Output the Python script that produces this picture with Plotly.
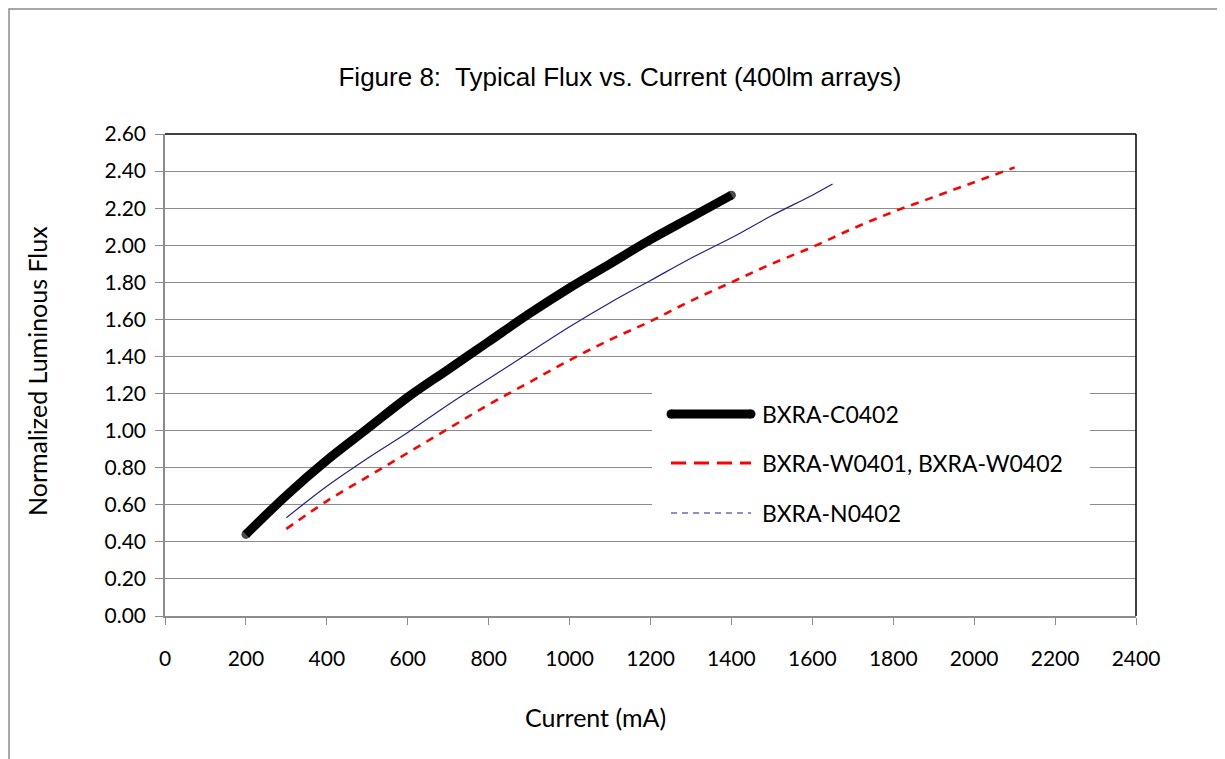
import plotly.graph_objects as go

# ---------------- data ----------------
series_names = ["BXRA-C0402", "BXRA-W0401, BXRA-W0402", "BXRA-N0402"]

c0402_x = [200, 300, 400, 500, 600, 700, 800, 900, 1000, 1100, 1200, 1300, 1400]
c0402_y = [0.44, 0.65, 0.84, 1.01, 1.18, 1.33, 1.48, 1.63, 1.77, 1.90, 2.03, 2.15, 2.27]

w0401_x = [300, 400, 500, 600, 700, 800, 900, 1000, 1100, 1200, 1300, 1400, 1500,
           1600, 1700, 1800, 1900, 2000, 2100]
w0401_y = [0.47, 0.62, 0.75, 0.88, 1.01, 1.14, 1.26, 1.38, 1.49, 1.59, 1.70, 1.80, 1.90,
           1.99, 2.09, 2.18, 2.26, 2.34, 2.42]

n0402_x = [300, 400, 500, 600, 700, 800, 900, 1000, 1100, 1200, 1300, 1400, 1500, 1600, 1650]
n0402_y = [0.53, 0.70, 0.85, 0.99, 1.14, 1.28, 1.42, 1.56, 1.69, 1.81, 1.93, 2.04, 2.16, 2.27, 2.33]

title_text = "Figure 8:\u00a0 Typical Flux vs. Current (400lm arrays)"
x_title = "Current (mA)"
y_title = "Normalized Luminous Flux"

# ---------------- styles ----------------
BLACK = "#000000"
RED = "#ff0000"
BLUE = "#20208a"
GRID = "#8c8c8c"
FONT = "Lato"

W, H = 1225, 759
OFF = 8  # page margin of the browser
L, R, T, B = 165, 1136, 134, 616  # plot area in page px


def px_x(p):
    return (p - L) / (R - L)


def px_y(p):
    return (B - p) / (B - T)


fig = go.Figure()
cap_sizes = [9] + [0] * (len(c0402_x) - 2) + [9]
fig.add_trace(go.Scatter(x=c0402_x, y=c0402_y, mode="lines+markers", name=series_names[0],
                         line=dict(color=BLACK, width=9, shape="spline"),
                         marker=dict(size=cap_sizes, color=BLACK, line=dict(width=0)),
                         showlegend=False))
fig.add_trace(go.Scatter(x=w0401_x, y=w0401_y, mode="lines", name=series_names[1],
                         line=dict(color=RED, width=2.6, dash="8px,7px", shape="spline"),
                         showlegend=False))
fig.add_trace(go.Scatter(x=n0402_x, y=n0402_y, mode="lines", name=series_names[2],
                         line=dict(color=BLUE, width=1.2, shape="spline"), showlegend=False))

shapes = []
# plot-area top and right border (black)
shapes.append(dict(type="line", xref="paper", yref="paper", x0=0, x1=1, y0=1, y1=1,
                   line=dict(color=BLACK, width=1.5)))
shapes.append(dict(type="line", xref="paper", yref="paper", x0=1, x1=1, y0=0, y1=1,
                   line=dict(color=BLACK, width=1.5)))
# outer chart frame
shapes.append(dict(type="rect", xref="paper", yref="paper",
                   x0=px_x(9), x1=px_x(1240), y0=px_y(775), y1=px_y(9),
                   line=dict(color="#8a8a8a", width=1.5), fillcolor="rgba(0,0,0,0)"))
# legend box (white, hides gridlines)
shapes.append(dict(type="rect", xref="paper", yref="paper",
                   x0=px_x(652), x1=px_x(1090), y0=px_y(538), y1=px_y(384),
                   line=dict(width=0), fillcolor="white", layer="above"))
# legend samples
leg_y = [414, 463, 513]
leg_styles = [dict(color=BLACK, width=9), dict(color=RED, width=3, dash="15px,8px"),
              dict(color=BLUE, width=1.2, dash="6px,5px")]
annotations = []
for name, yy, st in zip(series_names, leg_y, leg_styles):
    shapes.append(dict(type="line", xref="paper", yref="paper",
                       x0=px_x(671), x1=px_x(751), y0=px_y(yy), y1=px_y(yy),
                       line=st, layer="above"))
    annotations.append(dict(xref="paper", yref="paper", x=px_x(760), y=px_y(yy),
                            xanchor="left", yanchor="middle", text=name, showarrow=False,
                            font=dict(family=FONT, size=23, color=BLACK)))
# black sample round caps
shapes.append(dict(type="circle", xref="paper", yref="paper",
                   x0=px_x(666.5), x1=px_x(675.5), y0=px_y(418.5), y1=px_y(409.5),
                   fillcolor=BLACK, line=dict(width=0), layer="above"))
shapes.append(dict(type="circle", xref="paper", yref="paper",
                   x0=px_x(746.5), x1=px_x(755.5), y0=px_y(418.5), y1=px_y(409.5),
                   fillcolor=BLACK, line=dict(width=0), layer="above"))

# axis titles
annotations.append(dict(xref="paper", yref="paper", x=px_x(595), y=px_y(717),
                        xanchor="center", yanchor="middle", text=x_title, showarrow=False,
                        font=dict(family=FONT, size=25, color=BLACK)))
annotations.append(dict(xref="paper", yref="paper", x=px_x(37), y=px_y(371),
                        xanchor="center", yanchor="middle", text=y_title, showarrow=False,
                        textangle=-90, font=dict(family=FONT, size=25, color=BLACK)))

FW, FH = W - OFF, H - OFF
fig.update_layout(
    width=FW, height=FH,
    margin=dict(l=L - OFF, r=W - R, t=T - OFF, b=H - B, pad=0),
    paper_bgcolor="white", plot_bgcolor="white",
    title=dict(text=title_text, xref="container", yref="container",
               x=(620 - OFF) / FW, y=1 - (77 - OFF) / FH, xanchor="center", yanchor="middle",
               font=dict(family="Liberation Sans", size=26, color=BLACK)),
    shapes=shapes, annotations=annotations, showlegend=False,
    xaxis=dict(range=[0, 2400], dtick=200, tick0=0, showgrid=False, zeroline=False,
               showline=True, linecolor=GRID, linewidth=1.5,
               ticks="outside", ticklen=7, tickcolor=GRID, tickwidth=1,
               ticklabelstandoff=16,
               tickfont=dict(family=FONT, size=21, color=BLACK)),
    yaxis=dict(range=[0, 2.6], dtick=0.2, tick0=0, tickformat=".2f",
               showgrid=True, gridcolor=GRID, gridwidth=1, zeroline=False,
               showline=True, linecolor=GRID, linewidth=1.5,
               ticks="outside", ticklen=8, tickcolor=GRID, tickwidth=1,
               ticklabelstandoff=5,
               tickfont=dict(family=FONT, size=21, color=BLACK)),
)

fig.write_html("out.html")
